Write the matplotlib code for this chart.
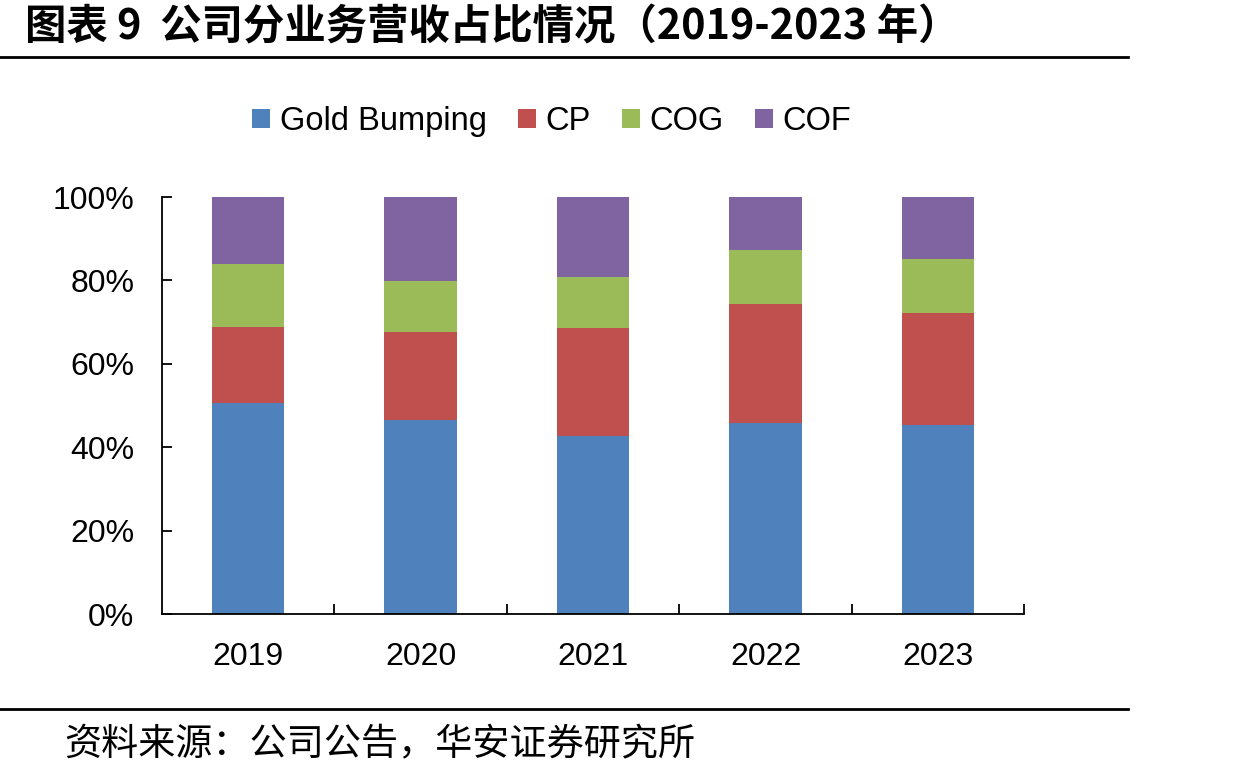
import numpy as np
import matplotlib.pyplot as plt
from matplotlib.lines import Line2D

plt.rcParams['font.family'] = ['Liberation Sans', 'Noto Sans CJK SC', 'DejaVu Sans']

years = ['2019', '2020', '2021', '2022', '2023']
series = ['Gold Bumping', 'CP', 'COG', 'COF']
gold_bumping = [50.6, 46.6, 42.7, 45.7, 45.3]
cp = [18.2, 21.0, 25.9, 28.6, 26.9]
cog = [15.1, 12.3, 12.2, 13.0, 12.9]
cof = [16.1, 20.1, 19.2, 12.7, 14.9]
colors = ['#4F81BD', '#C0504D', '#9BBB59', '#8064A2']

fig = plt.figure(figsize=(12.37, 7.75), dpi=100)
ax = fig.add_axes([0.131, 0.2077, 0.697, 0.5381])

x = np.arange(len(years))
bottom = np.zeros(len(years))
for vals, name, c in zip([gold_bumping, cp, cog, cof], series, colors):
    ax.bar(x, vals, width=0.42, bottom=bottom, color=c, label=name, zorder=2)
    bottom += np.array(vals)

ax.set_xlim(-0.5, len(years) - 0.5)
ax.set_ylim(0, 100)
ax.set_yticks(np.arange(0, 101, 20))
ax.set_yticklabels(['%d%%' % v for v in range(0, 101, 20)])
ax.set_xticks(x)
ax.set_xticklabels(years)
ax.set_xticks(np.arange(0.5, len(years), 1), minor=True)
ax.spines['top'].set_visible(False)
ax.spines['right'].set_visible(False)
for s in ['left', 'bottom']:
    ax.spines[s].set_linewidth(1.3)
ax.tick_params(axis='y', direction='in', length=7, width=1.3, labelsize=23, pad=20)
ax.tick_params(axis='x', which='major', length=0, labelsize=23, pad=20)
ax.tick_params(axis='x', which='minor', direction='in', length=7, width=1.3)

fig.legend(loc='center', bbox_to_anchor=(0.446, 0.843), ncol=4, frameon=False,
           fontsize=23.5, handlelength=0.55, handleheight=0.55, handletextpad=0.3,
           columnspacing=0.95)

fig.text(0.02, 0.965, '图表 9  公司分业务营收占比情况（2019-2023 年）', fontsize=29.8,
         fontweight='bold', va='center', ha='left',
         family=['Noto Sans CJK SC', 'DejaVu Sans'])
fig.add_artist(Line2D([0, 1128 / 1237], [1 - 57 / 775] * 2, color='black', lw=2))
fig.add_artist(Line2D([0, 1128 / 1237], [1 - 709 / 775] * 2, color='black', lw=2))
fig.text(0.052, 1 - 745 / 775, '资料来源：公司公告，华安证券研究所', fontsize=26.7,
         va='center', ha='left', family=['Noto Sans CJK SC', 'DejaVu Sans'])

fig.savefig('out.png', dpi=100)
